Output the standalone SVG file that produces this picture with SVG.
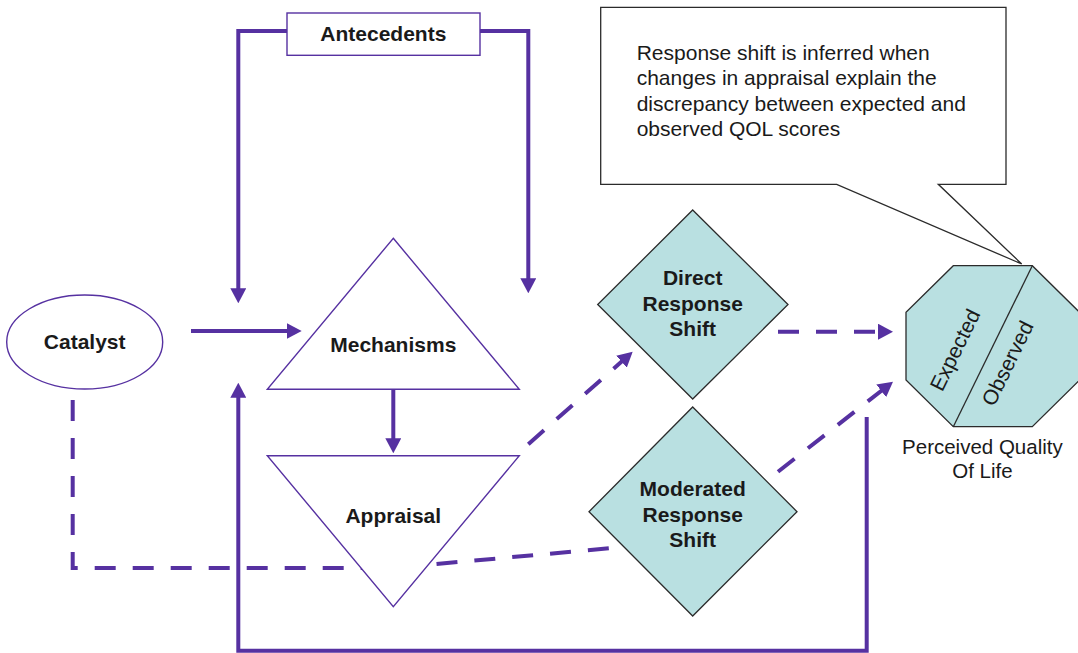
<svg xmlns="http://www.w3.org/2000/svg" width="1078" height="653" viewBox="0 0 1078 653">
<style>
.conn{fill:none;stroke:#5631a1;stroke-width:4}
.dash{stroke-dasharray:21 17}
.pshape{fill:#fff;stroke:#5631a1;stroke-width:1.4}
.teal{fill:#b9e0e1;stroke:#2b2b2b;stroke-width:1.3}
.lbl{font-family:"Liberation Sans",Arial,Helvetica,sans-serif;font-weight:bold;font-size:21px;fill:#1a1a1a;text-anchor:middle}
.reg{font-family:"Liberation Sans",Arial,Helvetica,sans-serif;font-size:20.5px;fill:#1a1a1a}
.big{font-size:21px}
</style>
<defs>
<marker id="ah" viewBox="0 0 15 16" refX="7" refY="8" markerWidth="15" markerHeight="16" markerUnits="userSpaceOnUse" orient="auto">
<path d="M0,0 L15,8 L0,16 Z" fill="#5631a1"/>
</marker>
</defs>
<rect width="1078" height="653" fill="#fff"/>
<g id="connectors">
<path class="conn" d="M287,31 H238.3 V295.3" marker-end="url(#ah)"/>
<path class="conn" d="M480,31 H528.3 V285.3" marker-end="url(#ah)"/>
<path class="conn" d="M191,331 H293.7" marker-end="url(#ah)"/>
<path class="conn" d="M393.3,389.3 V445.3" marker-end="url(#ah)"/>
<path class="conn" d="M866.7,417 V650.7 H238.3 V390.7" marker-end="url(#ah)"/>
<path class="conn dash" d="M72.7,400 V568 H393 L615,547.7"/>
<path class="conn dash" d="M528.3,444.3 L626.7,357" marker-end="url(#ah)"/>
<path class="conn dash" d="M778,331.7 H885" marker-end="url(#ah)"/>
<path class="conn dash" d="M778,471.7 L886.7,386.6" marker-end="url(#ah)"/>
</g>
<g id="antecedents">
<rect class="pshape" x="287" y="13" width="193" height="42.3"/>
<text class="lbl" x="383.3" y="40.7">Antecedents</text>
</g>
<g id="catalyst">
<ellipse class="pshape" cx="84.7" cy="342" rx="78" ry="47"/>
<text class="lbl" x="84.7" y="349.3">Catalyst</text>
</g>
<g id="mechanisms">
<polygon class="pshape" points="393.3,238.3 519.3,389.3 267.3,389.3"/>
<text class="lbl" x="393.3" y="351.7">Mechanisms</text>
</g>
<g id="appraisal">
<polygon class="pshape" points="267.3,455.7 519.3,455.7 393.3,606.7"/>
<text class="lbl" x="393.3" y="522.7">Appraisal</text>
</g>
<g id="direct-response-shift">
<polygon class="teal" points="692.7,210 788,304.5 692.7,399 597.7,304.5"/>
<text class="lbl" x="692.7" y="285">Direct</text>
<text class="lbl" x="692.7" y="310.7">Response</text>
<text class="lbl" x="692.7" y="336.3">Shift</text>
</g>
<g id="moderated-response-shift">
<polygon class="teal" points="692.7,407 797,511.7 692.7,616 589,511.7"/>
<text class="lbl" x="692.7" y="496">Moderated</text>
<text class="lbl" x="692.7" y="521.7">Response</text>
<text class="lbl" x="692.7" y="547.3">Shift</text>
</g>
<g id="perceived-qol">
<polygon class="teal" points="953.3,265.7 1032.3,265.7 1079.6,312.3 1079.6,380 1032.3,426.7 953.3,426.7 906,380 906,312.3"/>
<line x1="1032.3" y1="265.7" x2="953.3" y2="426.7" stroke="#2b2b2b" stroke-width="1.3"/>
<text class="reg big" text-anchor="middle" x="955" y="357.3" transform="rotate(-64 955 350)">Expected</text>
<text class="reg big" text-anchor="middle" x="1007.5" y="370.6" transform="rotate(-64 1007.5 363.3)">Observed</text>
<text class="reg" text-anchor="middle" x="982.4" y="454">Perceived Quality</text>
<text class="reg" text-anchor="middle" x="982.4" y="478.3">Of Life</text>
</g>
<g id="callout">
<path d="M600.7,7.3 H1006 V184.3 H938.3 L1021.7,264 L836.7,184.3 H600.7 Z" fill="#fff" stroke="#2b2b2b" stroke-width="1.3"/>
<text class="reg big" x="636.7" y="59.5">Response shift is inferred when</text>
<text class="reg big" x="636.7" y="85">changes in appraisal explain the</text>
<text class="reg big" x="636.7" y="110.5">discrepancy between expected and</text>
<text class="reg big" x="636.7" y="136">observed QOL scores</text>
</g>
</svg>
